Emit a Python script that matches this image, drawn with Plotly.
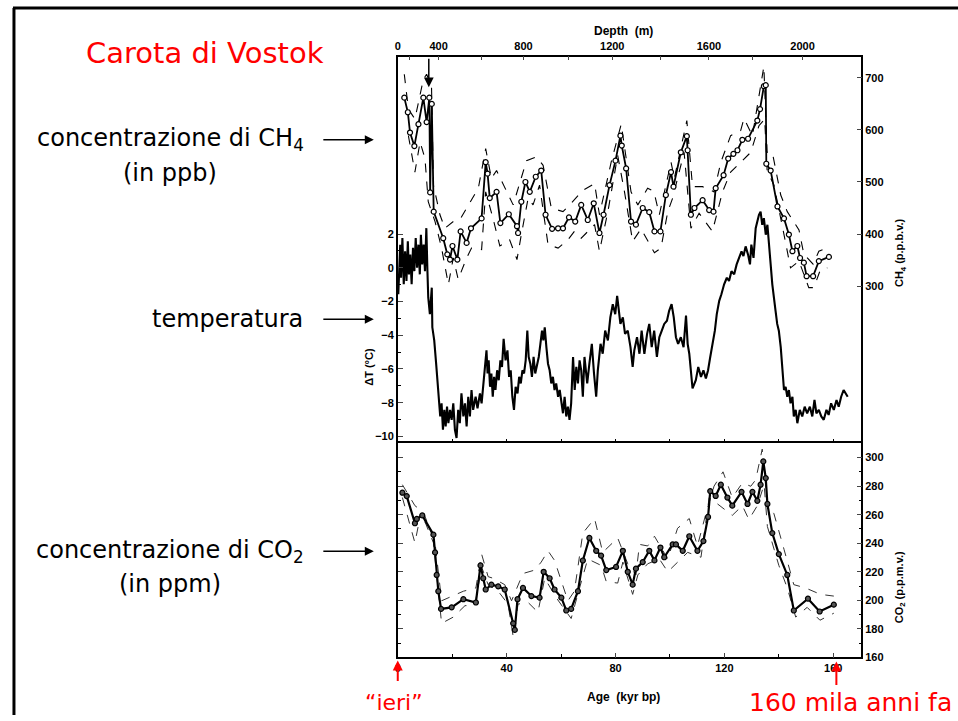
import plotly.graph_objects as go

W, H = 958, 721

# ---------------- data ----------------
# CH4 (ppbv), solid line with circles
ch4_age = [2.4, 3.7, 4.5, 6.1, 7.6, 9.4, 10.6, 11.6, 11.9, 12.5, 13.2, 16.7, 18.2, 19.2, 20.1, 21.9,
           23.1, 25.3, 26.9, 30.8, 32.3, 33.0, 33.8, 36.3, 37.7, 40.8, 43.8, 44.2, 45.4, 46.9,
           48.5, 50.7, 52.7, 54.3, 56.7, 58.9, 60.7, 62.9, 65.2, 67.4, 69.8, 72.0, 74.1, 75.6,
           77.8, 80.0, 81.8, 82.3, 83.9, 85.7, 87.5, 90.0, 92.4, 94.3, 96.5, 98.5, 100.4, 101.3,
           104.0, 106.2, 106.5, 107.7, 109.0, 112.0, 114.4, 116.0, 116.8, 119.7, 121.4, 123.3,
           124.8, 126.6, 128.7, 132.1, 133.1, 134.5, 135.2, 135.4, 137.0, 139.5, 141.9, 143.7,
           145.0, 146.8, 147.8, 149.2, 150.2, 152.6, 154.7, 158.4]
ch4_val = [662, 634, 595, 569, 611, 662, 615, 662, 480, 650, 443, 392, 361, 351, 377, 351,
           405, 383, 411, 430, 538, 516, 469, 481, 421, 438, 415, 402, 462, 500,
           481, 510, 522, 437, 410, 411, 411, 432, 424, 456, 427, 459, 402, 437,
           494, 541, 589, 570, 526, 424, 418, 450, 442, 405, 405, 475, 519, 491,
           557, 588, 561, 437, 450, 465, 446, 443, 488, 513, 545, 554,
           561, 581, 583, 618, 640, 684, 686, 535, 522, 453, 430, 399,
           367, 377, 354, 345, 319, 319, 348, 356]

ch4_hi_age = [2.4, 3.9, 6.3, 9.4, 10.6, 12.4, 13.1, 15.5, 17.3, 20.4, 23.1, 25.9, 29.6, 32.3, 34.4,
              36.3, 40.0, 42.4, 47.3, 50.9, 53.4, 56.4, 60.7, 63.7, 68.0, 72.3, 74.1, 78.4, 82.1,
              85.7, 88.2, 91.8, 94.1, 96.1, 100.4, 101.6, 106.2, 108.3, 112.0, 116.2, 118.7,
              122.3, 126.0, 127.2, 130.3, 134.5, 135.7, 137.6, 140.7, 143.1, 147.4, 149.2, 152.6,
              154.7, 157.8]
ch4_hi_val = [707, 640, 621, 697, 707, 684, 494, 437, 411, 424, 430, 456, 488, 564, 507,
              522, 481, 456, 541, 548, 532, 450, 443, 459, 484, 497, 437, 538, 611,
              481, 456, 488, 482, 437, 538, 507, 618, 491, 491, 481, 538,
              589, 599, 622, 589, 722, 557, 557, 475, 443, 408, 361, 342,
              367, 373]

ch4_lo_age = [3.9, 6.3, 8.2, 10.0, 11.2, 13.7, 16.1, 18.6, 20.4, 22.2, 25.3, 27.1, 30.8, 32.3, 35.0,
              37.5, 41.1, 43.8, 45.4, 47.9, 49.7, 52.1, 55.2, 58.9, 62.5, 64.9, 67.4, 72.3, 74.1,
              77.2, 80.8, 83.3, 86.3, 89.4, 94.3, 96.7, 99.2, 101.0, 105.2, 107.7, 110.7, 115.6,
              119.3, 122.3, 126.0, 129.7, 132.7, 134.8, 135.7, 138.2, 141.9, 144.3, 147.4, 149.8,
              151.0, 152.9, 155.3, 157.8]
ch4_lo_val = [589, 519, 577, 545, 462, 424, 373, 303, 354, 313, 354, 373, 370, 481, 430,
              377, 389, 351, 399, 469, 456, 494, 380, 373, 389, 405, 392, 418, 367,
              443, 551, 481, 386, 410, 364, 373, 443, 469, 557, 411, 440, 405,
              481, 519, 538, 557, 608, 621, 522, 494, 399, 335, 348, 313,
              297, 297, 332, 335]

# Temperature anomaly (deg C)
t_age = [0.2, 0.9, 1.2, 1.7, 2.2, 2.7, 3.2, 3.7, 4.1, 4.6, 5.1, 5.6, 6.1, 6.6, 7.1, 7.6, 8.1, 8.5,
         9.0, 9.5, 10.0, 10.5, 10.9, 11.2, 11.8, 12.5, 12.7, 13.4, 14.1, 14.7, 15.1, 15.6, 16.1,
         16.6, 17.1, 17.6, 18.1, 18.6, 19.2, 19.8, 20.4, 21.0, 21.6, 22.2, 22.8, 23.4, 24.1,
         24.7, 25.3, 25.9, 26.5, 27.1, 27.7, 28.6, 29.3, 30.2, 30.8, 31.4, 32.0, 32.6, 33.0,
         33.4, 33.9, 34.4, 34.9, 35.4, 35.9, 36.5, 37.1, 37.7, 38.3, 38.9, 39.6, 40.3, 40.9,
         41.5, 42.1, 42.7, 43.3, 44.0, 44.6, 45.2, 45.8, 46.4, 47.0, 47.6, 48.1, 48.7, 49.3,
         49.9, 50.5, 51.2, 51.8, 52.4, 53.0, 53.5, 54.0, 54.6, 55.2, 55.8, 56.4, 57.0, 57.6,
         58.2, 58.9, 59.5, 60.1, 60.7, 61.3, 61.9, 62.5, 63.1, 63.7, 64.4, 65.0, 65.6, 66.2,
         66.8, 67.4, 68.0, 68.6, 69.6, 70.4, 71.3, 72.1, 72.9, 73.5, 74.5, 75.3, 76.2, 77.2,
         78.1, 79.0, 79.9, 80.6, 81.2, 81.8, 82.7, 83.5, 84.5, 85.5, 86.3, 86.9, 87.9, 88.8,
         89.6, 90.6, 91.6, 92.4, 93.3, 94.2, 95.2, 96.1, 97.0, 97.9, 98.9, 99.7, 100.6, 101.4,
         102.2, 103.0, 104.0, 105.0, 105.9, 106.5, 107.1, 107.7, 108.3, 109.5, 110.4, 111.4,
         112.3, 113.2, 114.0, 114.8, 115.6, 116.5, 117.2, 118.1, 118.9, 119.9, 120.9, 121.7,
         122.6, 123.6, 124.5, 125.4, 126.3, 127.0, 127.8, 128.7, 129.4, 129.9, 130.7, 131.5,
         132.1, 132.7, 133.3, 133.9, 134.5, 135.2, 135.8, 136.4, 137.0, 137.6, 138.2, 138.8,
         139.4, 140.0, 140.7, 141.3, 141.9, 142.5, 143.1, 143.7, 144.3, 145.0, 145.5, 146.2,
         146.8, 147.7, 148.6, 149.5, 150.4, 151.4, 152.3, 153.1, 153.8, 154.7, 155.6, 156.5,
         157.5, 158.3, 159.2, 160.2, 161.2, 162.0, 162.9, 163.8, 164.6, 165.3]
t_val = [-1.57, 1.37, -0.59, 1.76, -0.98, 0.98, -0.78, 1.57, -0.39, 0.78, -0.98, 1.18, -0.20, 1.76,
         0.00, 1.37, -0.39, 1.96, 0.20, 1.37, -0.20, 2.35, -0.20, -1.76, -2.75, -1.18, -3.53,
         -4.31, -5.69, -7.06, -8.24, -8.82, -8.04, -9.61, -8.43, -9.41, -8.24, -9.22, -8.43,
         -9.02, -8.04, -9.61, -10.1, -8.43, -9.22, -7.45, -8.82, -8.04, -9.41, -7.65, -8.82,
         -7.25, -8.43, -7.65, -8.33, -7.45, -8.04, -6.86, -5.98, -4.90, -6.27, -5.49, -7.06,
         -6.27, -7.65, -6.47, -7.25, -6.08, -6.67, -5.49, -5.88, -4.22, -5.49, -4.90, -6.47,
         -6.08, -7.65, -8.43, -7.06, -7.45, -6.47, -6.86, -6.08, -6.27, -5.49, -3.73, -5.29,
         -5.69, -6.47, -5.29, -6.27, -5.69, -5.29, -4.51, -3.73, -4.31, -3.53, -4.71, -5.69,
         -6.08, -6.86, -6.47, -7.25, -6.86, -7.65, -7.25, -8.04, -8.63, -7.65, -8.82, -8.24,
         -9.02, -8.04, -5.29, -7.25, -5.88, -6.86, -5.49, -6.08, -7.65, -5.29, -6.86, -5.69,
         -4.51, -6.27, -7.65, -6.08, -4.51, -5.10, -3.73, -4.31, -2.94, -2.16, -2.75, -1.67,
         -2.55, -3.33, -2.94, -3.92, -3.73, -4.71, -5.88, -4.90, -4.12, -5.10, -3.73, -5.10,
         -3.92, -3.33, -4.71, -3.73, -5.29, -4.12, -3.73, -3.33, -3.14, -2.55, -2.16, -2.94,
         -4.12, -4.51, -4.12, -4.71, -2.84, -4.51, -5.10, -6.27, -7.16, -6.67, -5.88, -6.47,
         -6.08, -6.57, -6.08, -5.29, -4.51, -3.73, -2.75, -1.96, -1.57, -0.98, -0.59, -0.78,
         -0.20, -0.39, 0.20, 0.59, 0.98, 0.69, 1.27, 0.78, 0.20, 1.37, 0.59, 2.35,
         2.75, 3.14, 3.33, 2.55, 2.94, 1.96, 2.55, 1.57, 0.20, -0.98, -1.96, -2.55,
         -3.33, -3.73, -4.71, -6.08, -7.25, -7.06, -7.65, -7.25, -8.04, -7.65, -8.82, -8.43,
         -9.22, -8.43, -8.82, -8.24, -8.63, -8.24, -8.82, -7.84, -8.63, -8.43, -8.82, -9.02,
         -8.43, -8.73, -8.04, -8.43, -7.84, -8.24, -7.65, -7.25, -7.45, -7.65]

# CO2 (ppmv)
co2_age = [1.7, 3.3, 6.3, 7.0, 9.0, 13.1, 13.7, 14.3, 14.9, 15.9, 19.8, 24.1, 28.7, 30.4, 31.4,
           32.3, 34.4, 36.9, 39.3, 42.4, 43.0, 44.0, 46.0, 49.1, 52.1, 53.6, 55.8, 57.6, 60.1,
           61.9, 63.7, 66.2, 68.0, 70.4, 72.9, 74.7, 76.6, 80.2, 82.7, 84.5, 86.3, 87.5, 90.0,
           92.4, 94.3, 96.5, 97.9, 101.0, 102.2, 104.7, 107.1, 110.1, 112.3, 114.0, 114.8,
           116.8, 118.7, 121.1, 122.9, 126.3, 128.5, 130.3, 132.1, 133.3, 134.3, 135.2, 135.8,
           137.6, 140.0, 143.1, 145.5, 150.7, 155.0, 160.2]
co2_val = [275.4, 273.0, 254.0, 257.0, 259.5, 246.0, 233.6, 217.8, 206.4, 194.0, 195.1, 200.8,
           198.5, 224.5, 215.5, 207.6, 211.0, 209.8, 207.6, 183.9, 179.3, 200.8, 208.7, 203.0,
           201.9, 220.0, 215.5, 207.6, 201.9, 192.9, 194.0, 206.4, 227.9, 243.7, 234.7, 231.3,
           221.2, 223.4, 234.7, 220.0, 211.0, 222.2, 226.8, 234.7, 228.0, 237.0, 230.2, 239.2,
           239.2, 234.7, 244.9, 234.7, 241.5, 258.4, 276.5, 273.1, 281.0, 272.0, 266.3, 276.0,
           267.5, 276.0, 269.7, 281.0, 297.3, 285.6, 267.5, 247.1, 232.4, 217.8, 192.9, 201.2,
           192.2, 197.0]

co2_hi_age = [1.7, 6.3, 9.4, 13.7, 16.1, 24.1, 28.7, 30.8, 33.2, 35.0, 39.3, 41.8, 46.0, 50.3,
              52.7, 55.2, 57.6, 62.5, 64.9, 68.0, 72.3, 75.3, 80.8, 84.5, 87.5, 88.8, 91.8,
              94.3, 99.2, 102.8, 107.1, 110.1, 113.2, 116.2, 119.5, 122.9, 126.6, 129.7, 131.5,
              133.9, 135.8, 138.2, 141.9, 145.5, 149.8, 155.3, 160.2]
co2_hi_val = [281.0, 266.3, 261.8, 240.3, 199.7, 206.4, 208.7, 232.4, 216.6, 215.5, 211.0,
              199.7, 218.8, 221.2, 226.8, 234.7, 228.0, 199.7, 206.4, 247.1, 257.3, 233.6,
              243.7, 225.6, 217.8, 239.2, 238.1, 244.9, 229.0, 250.5, 257.3, 238.1, 260.7,
              280.0, 290.0, 272.0, 282.2, 279.9, 284.4, 305.9, 267.5, 260.7, 235.8, 211.0,
              208.7, 204.2, 203.0]

co2_lo_age = [1.7, 6.3, 7.6, 10.0, 13.1, 16.1, 20.4, 24.7, 28.3, 30.8, 33.2, 36.9, 40.5, 42.4,
              44.2, 47.9, 51.5, 54.0, 58.2, 63.7, 66.8, 69.8, 74.7, 76.6, 80.8, 82.7, 86.3,
              88.2, 91.8, 96.1, 99.2, 103.4, 106.5, 111.4, 113.2, 114.4, 117.5, 122.9, 126.6,
              129.0, 132.1, 134.6, 135.8, 140.0, 143.1, 146.2, 150.4, 155.1, 160.2]
co2_lo_val = [272.0, 240.3, 252.7, 255.0, 240.3, 183.9, 188.3, 196.3, 196.3, 223.4, 211.0,
              206.4, 197.4, 174.8, 197.4, 198.5, 191.7, 215.5, 201.9, 187.3, 208.7, 229.0,
              224.5, 213.2, 212.1, 226.8, 204.2, 217.8, 225.6, 229.0, 220.0, 227.9, 233.6,
              230.2, 255.0, 272.0, 267.5, 259.5, 266.3, 256.6, 266.3, 281.0, 251.7, 224.5,
              208.7, 188.3, 195.1, 186.1, 191.0]

# Depth (m) scale on top, with the ages where its ticks fall
depth_m = [0, 200, 400, 600, 800, 1000, 1200, 1400, 1600, 1800, 2000]
depth_age = [0.0, 4.4, 15.0, 30.8, 46.2, 62.6, 78.8, 96.7, 114.3, 130.4, 148.7]

age_ticks = [0, 40, 80, 120, 160]
dt_ticks = [-10, -8, -6, -4, -2, 0, 2]
ch4_ticks = [300, 400, 500, 600, 700]
co2_ticks = [160, 180, 200, 220, 240, 260, 280, 300]

# ---------------- layout geometry ----------------
def px(x):
    return x / W

def py(y):
    return 1 - y / H

XD = [px(396), px(861)]
UPPER = [py(447), py(57)]
LOWER = [py(663), py(447)]
XR = [0, 170.3]

fig = go.Figure()

dash_style = dict(color="black", width=1.1, dash="dash")
# Temperature (x / y)
fig.add_trace(go.Scatter(x=t_age, y=t_val, mode="lines", line=dict(color="black", width=2.1),
                         xaxis="x", yaxis="y", showlegend=False))
# CH4 (x / y2)
fig.add_trace(go.Scatter(x=ch4_hi_age, y=ch4_hi_val, mode="lines", line=dash_style,
                         xaxis="x", yaxis="y2", showlegend=False, hoverinfo="skip"))
fig.add_trace(go.Scatter(x=ch4_lo_age, y=ch4_lo_val, mode="lines", line=dash_style,
                         xaxis="x", yaxis="y2", showlegend=False, hoverinfo="skip"))
fig.add_trace(go.Scatter(x=ch4_age, y=ch4_val, mode="lines+markers",
                         line=dict(color="black", width=1.8),
                         marker=dict(symbol="circle", size=5, color="white",
                                     line=dict(color="black", width=1.2)),
                         xaxis="x", yaxis="y2", showlegend=False))
# CO2 (x2 / y3)
fig.add_trace(go.Scatter(x=co2_hi_age, y=co2_hi_val, mode="lines",
                         line=dict(color="#333", width=1, dash="dash"),
                         xaxis="x2", yaxis="y3", showlegend=False, hoverinfo="skip"))
fig.add_trace(go.Scatter(x=co2_lo_age, y=co2_lo_val, mode="lines",
                         line=dict(color="#333", width=1, dash="dash"),
                         xaxis="x2", yaxis="y3", showlegend=False, hoverinfo="skip"))
fig.add_trace(go.Scatter(x=co2_age, y=co2_val, mode="lines+markers",
                         line=dict(color="black", width=2.2),
                         marker=dict(symbol="circle", size=5, color="#555",
                                     line=dict(color="black", width=1.2)),
                         xaxis="x2", yaxis="y3", showlegend=False))
# invisible trace so the top depth axis has a subplot of its own
fig.add_trace(go.Scatter(x=[None], y=[None], xaxis="x3", yaxis="y", showlegend=False,
                         hoverinfo="skip"))

tickf = dict(family="Liberation Sans", size=11, color="black", weight="bold")
axline = dict(showline=True, linecolor="black", linewidth=1.5, showgrid=False, zeroline=False)

fig.update_layout(
    width=W, height=H,
    margin=dict(l=0, r=0, t=0, b=0),
    paper_bgcolor="white", plot_bgcolor="rgba(0,0,0,0)",
    xaxis=dict(domain=XD, range=XR, anchor="y", showticklabels=False, showline=False,
               ticks="inside", tickvals=[0, 20, 40, 60, 80, 100, 120, 140, 160], ticklen=4,
               tickcolor="black", showgrid=False, zeroline=False),
    xaxis3=dict(overlaying="x", side="top", anchor="y", range=XR,
                tickvals=depth_age,
                ticktext=[str(d) if d % 400 == 0 else "" for d in depth_m],
                ticks="inside", ticklen=4, tickfont=tickf, **axline),
    yaxis=dict(domain=UPPER, range=[-10.41, 12.53], anchor="x", side="left",
               tickvals=dt_ticks, ticks="inside", ticklen=5, tickfont=tickf,
               minor=dict(tickvals=[-9, -7, -5, -3, -1, 1], ticks="inside", ticklen=3,
                          tickcolor="black"),
               **axline),
    yaxis2=dict(overlaying="y", side="right", anchor="x", range=[-2, 741],
                tickvals=ch4_ticks, ticks="inside", ticklen=5, tickfont=tickf, **axline),
    xaxis2=dict(domain=XD, range=XR, anchor="y3", tickvals=age_ticks, ticks="inside",
                ticklen=5, tickfont=tickf, mirror=True,
                minor=dict(tickvals=[20, 60, 100, 140], ticks="inside", ticklen=4,
                           tickcolor="black"),
                **axline),
    yaxis3=dict(domain=LOWER, range=[160, 310], anchor="x2", side="right", mirror="ticks",
                tickvals=co2_ticks, ticks="inside", ticklen=5, tickfont=tickf,
                minor=dict(dtick=10, ticks="inside", ticklen=3, tickcolor="black"),
                **axline),
    font=dict(family="DejaVu Sans", color="black"),
)

ann = []
def txt(x, y, s, size, color="black", family="DejaVu Sans", angle=0, bold=False, xanchor="center"):
    ann.append(dict(x=px(x), y=py(y), xref="paper", yref="paper", text=s, showarrow=False,
                    textangle=angle, xanchor=xanchor, yanchor="middle",
                    font=dict(size=size, color=color, family=family,
                              weight="bold" if bold else "normal")))

def arrow(x0, y0, x1, y1, color="black", width=1.5, head=2, hs=1.2):
    ann.append(dict(x=px(x1), y=py(y1), xref="paper", yref="paper", ax=x0 - x1, ay=y0 - y1,
                    axref="pixel", ayref="pixel", text="", showarrow=True, arrowhead=head,
                    arrowsize=hs, arrowwidth=width, arrowcolor=color))

txt(203, 53, "Carota di Vostok", 29, color="red")
txt(168, 141, "concentrazione di CH<sub>4</sub>", 24)
txt(168, 174, "(in ppb)", 24)
txt(225, 322, "temperatura", 24)
txt(168, 556, "concentrazione di CO<sub>2</sub>", 24)
txt(168, 589, "(in ppm)", 24)
arrow(320, 141, 372, 141)
arrow(320, 322, 372, 322)
arrow(320, 556, 372, 556)

txt(392, 708, "\u201cieri\u201d", 22, color="red")
txt(850, 708, "160 mila anni fa", 25, color="red")
arrow(396, 688, 396, 666, color="red", width=2, head=2, hs=1)
arrow(836, 692, 836, 667, color="red", width=2, head=2, hs=1)

txt(622, 31, "Depth  (m)", 12, family="Liberation Sans", bold=True)
txt(622, 703, "Age  (kyr bp)", 12, family="Liberation Sans", bold=True)
txt(367, 370, "\u0394T (\u00b0C)", 11, family="Liberation Sans", angle=-90, bold=True)
txt(900, 255, "CH<sub>4</sub> (p.p.b.v.)", 11, family="Liberation Sans", angle=-90, bold=True)
txt(900, 592, "CO<sub>2</sub> (p.p.m.v.)", 11, family="Liberation Sans", angle=-90, bold=True)

# small downward arrow marking the top of the record
ann.append(dict(x=11.4, y=py(88), xref="x", yref="paper", ax=0, ay=-30, text="",
                showarrow=True, arrowhead=2, arrowsize=1.3, arrowwidth=1.5, arrowcolor="black"))

fig.update_layout(annotations=ann)

fig.update_layout(shapes=[
    dict(type="line", xref="paper", yref="paper", x0=px(10), x1=1.0, y0=py(8), y1=py(8),
         line=dict(color="black", width=3)),
    dict(type="line", xref="paper", yref="paper", x0=px(11), x1=px(11), y0=py(8), y1=0,
         line=dict(color="black", width=3)),
])

fig.write_html("out.html")
